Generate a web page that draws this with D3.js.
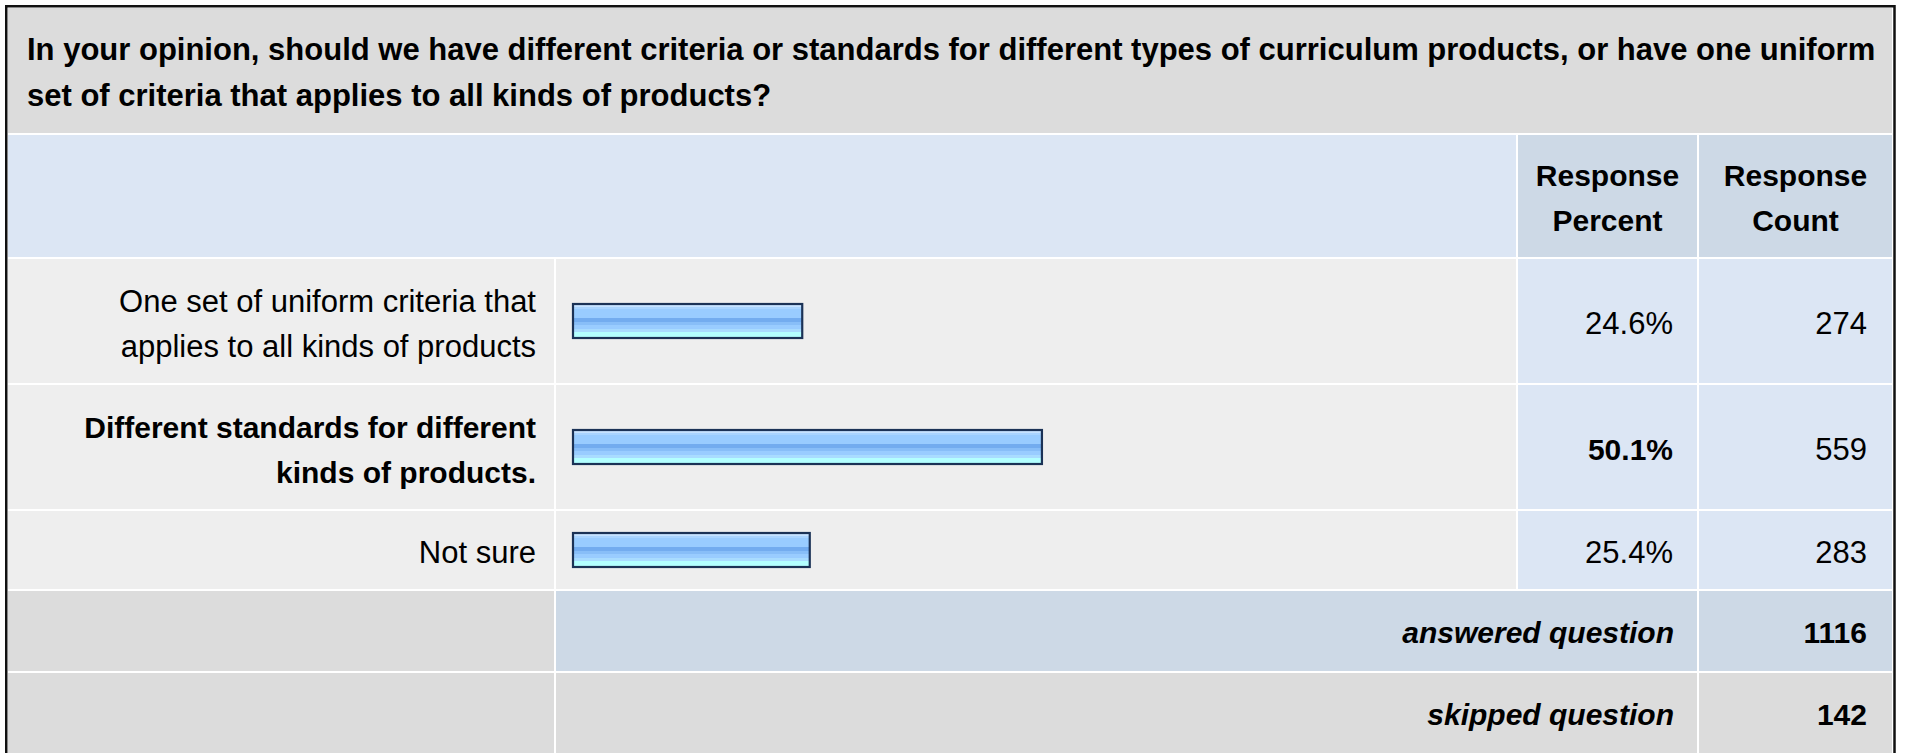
<!DOCTYPE html>
<html>
<head>
<meta charset="utf-8">
<script src="https://cdn.jsdelivr.net/npm/d3@7/dist/d3.min.js"></script>
<style>
  html, body { margin: 0; padding: 0; background: #ffffff; overflow: hidden; }
  svg { display: block; font-family: "Liberation Sans", Arial, Helvetica, sans-serif; }
</style>
</head>
<body>
<svg id="chart" width="1907" height="753"></svg>
<script>
// Survey question and answer data
const questionLines = [
  "In your opinion, should we have different criteria or standards for different types of curriculum products, or have one uniform",
  "set of criteria that applies to all kinds of products?"
];
const choiceLabels = [
  ["One set of uniform criteria that", "applies to all kinds of products"],
  ["Different standards for different", "kinds of products."],
  ["Not sure"]
];
const responsePercents = [24.6, 50.1, 25.4];
const responseCounts = [274, 559, 283];
const columnHeaders = [["Response", "Percent"], ["Response", "Count"]];
const summaryLabels = ["answered question", "skipped question"];
const summaryCounts = [1116, 142];

// Layout
const W = 1907, H = 753;
const L = 8, R = 1892, GAP = 2;
const col = {
  label: [L, 554],
  bar: [556, 1516],
  pct: [1518, 1697],
  cnt: [1699, R]
};
const LINE = 45;
const C = {
  title: "#dcdcdc",
  rowBg: "#eeeeee",
  lightBlue: "#dce6f4",
  headBlue: "#cdd9e6",
  gray: "#dcdcdc",
  barStroke: "#1b3256",
  text: "#000000"
};

const svg = d3.select("#chart");
const bgG = svg.append("g");
const markG = svg.append("g");
const textG = svg.append("g");

// Bar gradient: horizontal bands, light top, darker middle band, cyan bottom
const defs = svg.append("defs");
const grad = defs.append("linearGradient")
  .attr("id", "barFill").attr("x1", 0).attr("y1", 0).attr("x2", 0).attr("y2", 1);
const bands = [
  [0.00, "#c6e2ff"], [0.075, "#a9d4ff"], [0.15, "#99ccff"], [0.41, "#73acef"],
  [0.52, "#88bef8"], [0.62, "#99ccff"], [0.73, "#a9dcff"], [0.83, "#b3ffff"], [1.0, null]
];
for (let i = 0; i < bands.length - 1; i++) {
  grad.append("stop").attr("offset", bands[i][0]).attr("stop-color", bands[i][1]);
  grad.append("stop").attr("offset", bands[i + 1][0]).attr("stop-color", bands[i][1]);
}

// Vertical layout of the rows
let y = L;
function nextRow(h) { const r = [y, y + h]; y += h + GAP; return r; }
const titleRow = nextRow(125);
const headerRow = nextRow(122);
const choiceRows = choiceLabels.map(lines => nextRow(lines.length > 1 ? 124 : 78));
const summaryRows = summaryLabels.map(() => nextRow(80));

function cell(x0x1, y0y1, fill) {
  bgG.append("rect")
    .attr("x", x0x1[0]).attr("y", y0y1[0])
    .attr("width", x0x1[1] - x0x1[0]).attr("height", y0y1[1] - y0y1[0])
    .attr("fill", fill);
}
function lines(arr, x, yc, anchor, weight, style) {
  const n = arr.length;
  const bold = weight === "bold";
  arr.forEach((s, i) => {
    textG.append("text")
      .attr("x", x)
      .attr("y", yc + (i - (n - 1) / 2) * LINE + 11)
      .attr("text-anchor", anchor)
      .attr("font-size", bold ? 30 : 31)
      .attr("font-weight", weight || "normal")
      .attr("font-style", style || "normal")
      .attr("fill", C.text)
      .text(s);
  });
}
const mid = r => (r[0] + r[1]) / 2;

// Title
cell([L, R], titleRow, C.title);
questionLines.forEach((s, i) => {
  textG.append("text")
    .attr("x", 27).attr("y", 60 + i * 46)
    .attr("font-size", 31).attr("font-weight", "bold").attr("fill", C.text)
    .text(s);
});

// Header
cell([L, col.bar[1]], headerRow, C.lightBlue);
cell(col.pct, headerRow, C.headBlue);
cell(col.cnt, headerRow, C.headBlue);
lines(columnHeaders[0], mid(col.pct), mid(headerRow) + 1, "middle", "bold");
lines(columnHeaders[1], mid(col.cnt), mid(headerRow) + 1, "middle", "bold");

// Bar scale
const x = d3.scaleLinear().domain([0, 100]).range([572, 1512]);
const topIdx = d3.maxIndex(responsePercents);
const BAR_H = 36;

choiceLabels.forEach((lab, i) => {
  const r = choiceRows[i];
  const bold = i === topIdx ? "bold" : "normal";
  cell(col.label, r, C.rowBg);
  cell(col.bar, r, C.rowBg);
  cell(col.pct, r, C.lightBlue);
  cell(col.cnt, r, C.lightBlue);
  lines(lab, 536, mid(r) + 2, "end", bold);
  lines([responsePercents[i].toFixed(1) + "%"], 1673, mid(r) + 2, "end", bold);
  lines([String(responseCounts[i])], 1867, mid(r) + 2, "end");
});

// Bars
markG.selectAll("rect")
  .data(responsePercents)
  .join("rect")
  .attr("x", x(0) + 1)
  .attr("y", (d, i) => mid(choiceRows[i]) - BAR_H / 2 + 1)
  .attr("width", d => x(d) - x(0) - 2)
  .attr("height", BAR_H - 2)
  .attr("fill", "url(#barFill)")
  .attr("stroke", C.barStroke)
  .attr("stroke-width", 2.2);

// Summary rows
summaryLabels.forEach((lab, i) => {
  const r = summaryRows[i];
  const fill = i === 0 ? C.headBlue : C.gray;
  cell(col.label, r, C.gray);
  cell([col.bar[0], col.pct[1]], r, fill);
  cell(col.cnt, r, fill);
  lines([lab], 1674, mid(r) + 1, "end", "bold", "italic");
  lines([String(summaryCounts[i])], 1867, mid(r) + 1, "end", "bold");
});

// Outer frame
svg.append("rect")
  .attr("x", 6.25).attr("y", 6.25)
  .attr("width", 1888.25).attr("height", H + 20)
  .attr("fill", "none").attr("stroke", "#111").attr("stroke-width", 2.5);
</script>
</body>
</html>
